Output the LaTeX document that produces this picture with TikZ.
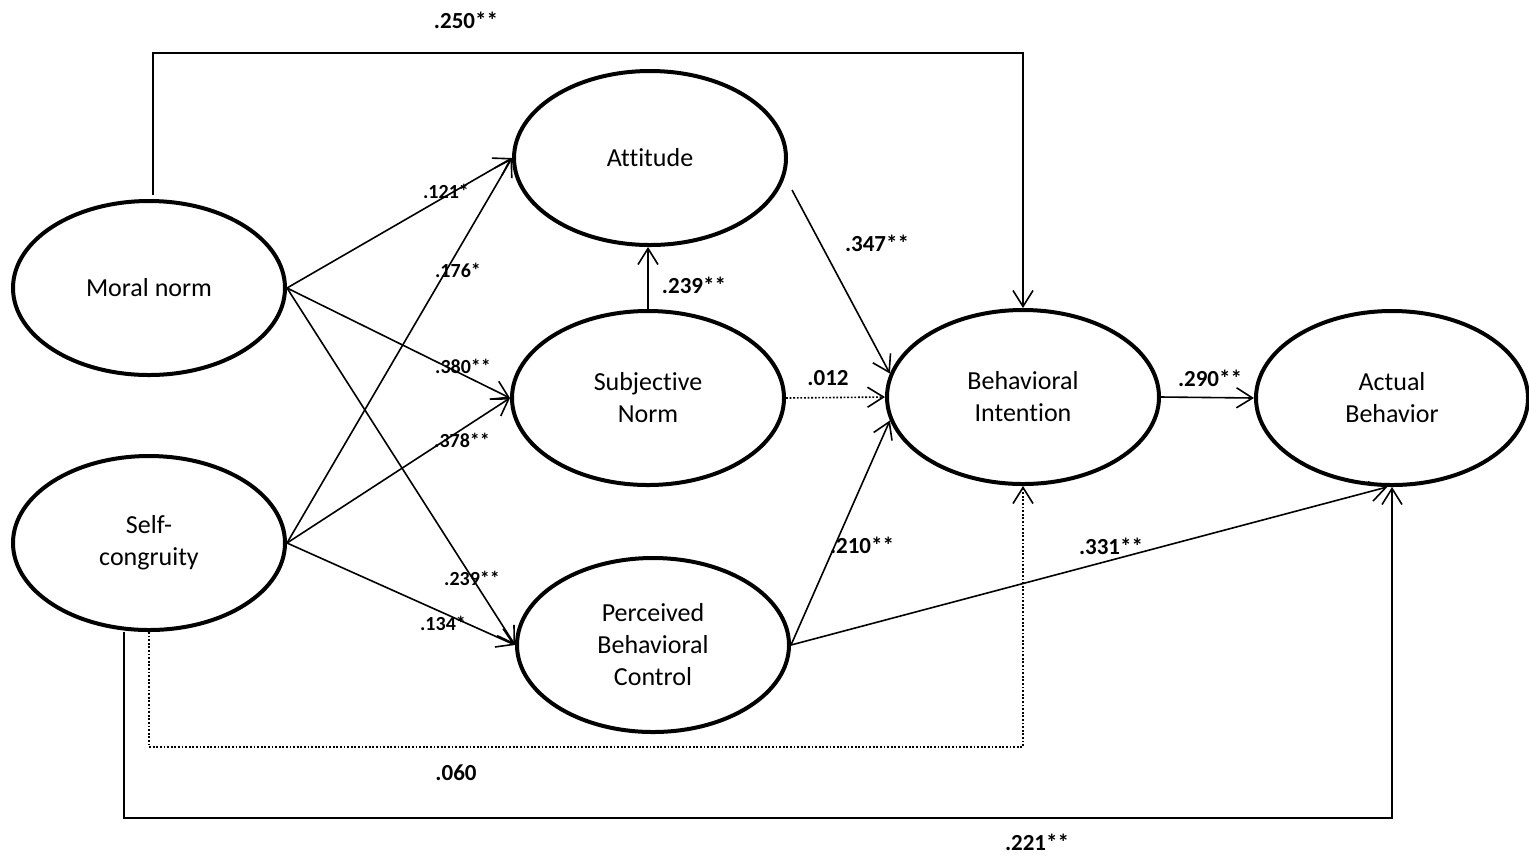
\documentclass[tikz,border=0pt]{standalone}
\usepackage{fontspec}
\setmainfont{Carlito}[Ligatures=NoCommon]
\usetikzlibrary{shapes.geometric,arrows.meta}
\begin{document}
\begin{tikzpicture}[x=0.5pt,y=-0.5pt,
  construct/.style={ellipse,draw,line width=2pt,minimum width=136pt,minimum height=87pt,inner sep=0pt,align=center,font=\fontsize{13}{16}\selectfont},
  path/.style={line width=0.8pt,-{Straight Barb[length=8pt,width=10pt,line width=0.8pt]}},
  nsig/.style={path,dash pattern=on 0.9pt off 0.9pt},
  lab/.style={font=\bfseries\fontsize{11.5}{13}\selectfont,inner sep=0pt},
  slab/.style={font=\bfseries\fontsize{10}{12}\selectfont,inner sep=0pt}]
\useasboundingbox (0,0) rectangle (1529,858);
\fill[white] (0,0) rectangle (1529,858);

\node[construct] (mn) at (149,288) {Moral norm};
\node[construct] (sc) at (149,543) {Self-\\congruity};
\node[construct] (att) at (650,158) {Attitude};
\node[construct] (sn) at (648,398) {Subjective\\Norm};
\node[construct] (pbc) at (653,645) {Perceived\\Behavioral\\Control};
\node[construct] (bi) at (1023,397) {Behavioral\\Intention};
\node[construct] (ab) at (1392,398) {Actual\\Behavior};

\coordinate (topc) at (600,53);
\coordinate (dotc) at (600,747);
\coordinate (botc) at (600,818);
\coordinate (attout) at (792,190);

% moral norm paths
\draw[path] (mn.east) -- (att.west);
\draw[path] (mn.east) -- (sn.west);
\draw[path] (mn.east) -- (pbc.west);
% self-congruity paths
\draw[path] (sc.east) -- (att.west);
\draw[path] (sc.east) -- (sn.west);
\draw[path] (sc.east) -- (pbc.west);
% inner paths
\draw[path] (sn.north) -- (sn.north |- att.south);
\draw[path] (attout) -- (bi.170);
\draw[nsig] (sn.east) -- (bi.west);
\draw[path] (pbc.east) -- (bi.190);
\draw[path] (bi.east) -- (ab.west);
\draw[path] (pbc.east) -- (ab.-93);
% long paths
\draw[path] ([xshift=2pt,yshift=2pt]mn.north) |- (topc) -| (bi.north);
\draw[nsig] (sc.south) |- (dotc) -| (bi.south);
\draw[path] ([xshift=-12.5pt]sc.south) |- (botc) -| (ab.south);

% labels
\node[lab] (l250) at (466,20) {.250**};
\node[slab] (l121) at (446,191) {.121*};
\node[slab] (l176) at (458,270) {.176*};
\node[slab] (l380) at (463,366) {.380**};
\node[slab] (l378) at (462,440) {.378**};
\node[slab] (l239a) at (472,578) {.239**};
\node[slab] (l134) at (443,623) {.134*};
\node[lab] (l239b) at (694,285) {.239**};
\node[lab] (l347) at (877,243) {.347**};
\node[lab] (l012) at (828,378) {.012};
\node[lab] (l210) at (862,545) {.210**};
\node[lab] (l331) at (1111,546) {.331**};
\node[lab] (l290) at (1210,378) {.290**};
\node[lab] (l060) at (456,773) {.060};
\node[lab] (l221) at (1037,842) {.221**};
\end{tikzpicture}
\end{document}
